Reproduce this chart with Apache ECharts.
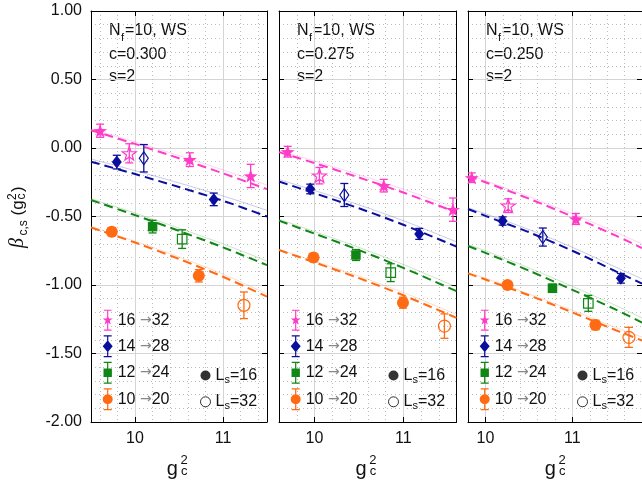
<!DOCTYPE html>
<html>
<head>
<meta charset="utf-8">
<script src="https://cdn.jsdelivr.net/npm/echarts@6/dist/echarts.min.js"></script>
<style>
html, body { margin: 0; padding: 0; background: #fff; }
#chart { width: 642px; height: 487px; }
</style>
</head>
<body>
<div id="chart"></div>
<script>
// points: [g_c^2, beta, error, open(1 = L_s=32)]
const p16_300 = [[9.604, 0.126, 0.048, 0], [9.935, -0.039, 0.07, 1], [10.623, -0.085, 0.05, 0], [11.314, -0.204, 0.085, 0]]
const p14_300 = [[9.793, -0.103, 0.05, 0], [10.10, -0.075, 0.10, 1], [10.895, -0.375, 0.046, 0]]
const p12_300 = [[10.20, -0.574, 0.046, 0], [10.536, -0.665, 0.068, 1]]
const p10_300 = [[9.736, -0.611, 0.03, 0], [10.725, -0.933, 0.045, 0], [11.238, -1.148, 0.097, 1]]

const p16_275 = [[9.698, -0.027, 0.039, 0], [10.056, -0.202, 0.06, 1], [10.78, -0.275, 0.046, 0], [11.56, -0.45, 0.085, 0]]
const p14_275 = [[9.952, -0.299, 0.035, 0], [10.336, -0.343, 0.084, 1], [11.18, -0.627, 0.04, 0]]
const p12_275 = [[10.467, -0.781, 0.04, 0], [10.859, -0.91, 0.065, 1]]
const p10_275 = [[9.989, -0.80, 0.03, 0], [10.997, -1.129, 0.04, 0], [11.464, -1.30, 0.089, 1]]

const p16_250 = [[9.843, -0.217, 0.035, 0], [10.262, -0.421, 0.05, 1], [11.04, -0.518, 0.04, 0]]
const p14_250 = [[10.198, -0.533, 0.03, 0], [10.66, -0.65, 0.066, 1], [11.557, -0.951, 0.035, 0]]
const p12_250 = [[10.771, -1.024, 0.03, 0], [11.183, -1.134, 0.058, 1]]
const p10_250 = [[10.254, -1.0, 0.025, 0], [11.265, -1.292, 0.035, 0], [11.65, -1.382, 0.073, 1]]

// fit curves (dashed) and the faint solid ones
const fitX_300 = [9.5, 10, 10.5, 11, 11.5]
const fit16_300 = [0.13, 0.03, -0.075, -0.185, -0.30]
const fit14_300 = [-0.10, -0.19, -0.285, -0.385, -0.50]
const fit12_300 = [-0.38, -0.49, -0.605, -0.725, -0.855]
const fit10_300 = [-0.58, -0.69, -0.81, -0.94, -1.085]
const alt16_300 = [0.14, 0.045, -0.055, -0.16, -0.27]
const alt14_300 = [-0.08, -0.165, -0.255, -0.35, -0.455]
const alt12_300 = [-0.37, -0.475, -0.585, -0.70, -0.825]
const alt10_300 = [-0.575, -0.68, -0.795, -0.92, -1.065]

const fitX_275 = [9.6, 10, 10.5, 11, 11.6]
const fit16_275 = [-0.03, -0.11, -0.215, -0.325, -0.47]
const fit14_275 = [-0.245, -0.33, -0.44, -0.56, -0.72]
const fit12_275 = [-0.53, -0.625, -0.745, -0.875, -1.045]
const fit10_275 = [-0.745, -0.835, -0.95, -1.075, -1.24]
const alt16_275 = [-0.02, -0.095, -0.195, -0.30, -0.44]
const alt14_275 = [-0.23, -0.31, -0.415, -0.53, -0.685]
const alt12_275 = [-0.52, -0.61, -0.725, -0.85, -1.015]
const alt10_275 = [-0.74, -0.825, -0.935, -1.055, -1.215]

const fitX_250 = [9.8, 10, 10.5, 11, 11.5, 11.8]
const fit16_250 = [-0.205, -0.25, -0.37, -0.5, -0.64, -0.73]
const fit14_250 = [-0.445, -0.495, -0.615, -0.75, -0.9, -0.99]
const fit12_250 = [-0.715, -0.765, -0.895, -1.035, -1.18, -1.275]
const fit10_250 = [-0.915, -0.96, -1.075, -1.2, -1.33, -1.405]
const alt16_250 = [-0.195, -0.24, -0.355, -0.48, -0.615, -0.70]
const alt14_250 = [-0.435, -0.48, -0.595, -0.725, -0.87, -0.955]
const alt12_250 = [-0.705, -0.75, -0.875, -1.01, -1.15, -1.24]
const alt10_250 = [-0.91, -0.95, -1.065, -1.185, -1.31, -1.38]

const groups = ['16→32', '14→28', '12→24', '10→20']
const yTicks = [-2, 1, 0.5]
const xMajor = [10, 11]

const FONT = '"Liberation Sans", Arial, sans-serif'
const colors = ['#ff3cc8', '#0a0e9c', '#108614', '#ff6a12']
const STAR = 'path://M5,0 L6.176,3.382 L9.755,3.455 L6.902,5.618 L7.939,9.045 L5,7 L2.061,9.045 L3.098,5.618 L0.245,3.455 L3.824,3.382 Z'
const symbols = [STAR, 'diamond', 'rect', 'circle']
const symSizes = [[14, 13.3], [10, 13], 9.5, 12]
const BAR = 'M4.4,0 L5.6,0 L5.6,22 L4.4,22 Z M1,0 L9,0 L9,1.2 L1,1.2 Z M1,20.8 L9,20.8 L9,22 L1,22 Z'
const legendIcons = [
  'path://M5,5.5 L6.293,9.22 L10.23,9.3 L7.09,11.68 L8.23,15.45 L5,13.2 L1.77,15.45 L2.91,11.68 L-0.23,9.3 L3.707,9.22 Z ' + BAR,
  'path://M5,5 L10,11 L5,17 L0,11 Z ' + BAR,
  'path://M0.8,6.8 L9.2,6.8 L9.2,15.2 L0.8,15.2 Z ' + BAR,
  'path://M0,11 A5,5 0 1,1 10,11 A5,5 0 1,1 0,11 Z ' + BAR
]

const panels = [
  { c: '0.300', left: 91, width: 176, min: 9.5, max: 11.5, minor: [9.6, 9.8, 10.2, 10.4, 10.6, 10.8, 11.2, 11.4],
    pts: [p16_300, p14_300, p12_300, p10_300], fx: fitX_300,
    fits: [fit16_300, fit14_300, fit12_300, fit10_300], alts: [alt16_300, alt14_300, alt12_300, alt10_300] },
  { c: '0.275', left: 279, width: 177.5, min: 9.6, max: 11.6, minor: [9.8, 10.2, 10.4, 10.6, 10.8, 11.2, 11.4],
    pts: [p16_275, p14_275, p12_275, p10_275], fx: fitX_275,
    fits: [fit16_275, fit14_275, fit12_275, fit10_275], alts: [alt16_275, alt14_275, alt12_275, alt10_275] },
  { c: '0.250', left: 468, width: 178, min: 9.8, max: 11.8, minor: [10.2, 10.4, 10.6, 10.8, 11.2, 11.4, 11.6],
    pts: [p16_250, p14_250, p12_250, p10_250], fx: fitX_250,
    fits: [fit16_250, fit14_250, fit12_250, fit10_250], alts: [alt16_250, alt14_250, alt12_250, alt10_250] }
]

const TOP = 11
const HEIGHT = 411

function errorBar (color) {
  return function (params, api) {
    const x = api.value(0)
    const y = api.value(1)
    const e = api.value(2)
    const hi = api.coord([x, y + e])
    const lo = api.coord([x, y - e])
    const w = 4
    const st = { stroke: color, lineWidth: 1.3 }
    return {
      type: 'group',
      children: [
        { type: 'line', shape: { x1: hi[0], y1: hi[1], x2: lo[0], y2: lo[1] }, style: st },
        { type: 'line', shape: { x1: hi[0] - w, y1: hi[1], x2: hi[0] + w, y2: hi[1] }, style: st },
        { type: 'line', shape: { x1: lo[0] - w, y1: lo[1], x2: lo[0] + w, y2: lo[1] }, style: st }
      ]
    }
  }
}

const grid = []
const xAxis = []
const yAxis = []
const series = []
const legend = []
const graphic = []
const black = { color: '#000', width: 1 }

panels.forEach((P, p) => {
  grid.push({ left: P.left, top: TOP, width: P.width, height: HEIGHT })
  // main bottom axis
  xAxis.push({
    gridIndex: p, type: 'value', min: P.min, max: P.max, position: 'bottom',
    axisLine: { onZero: false, lineStyle: black },
    axisTick: { inside: true, length: 5, customValues: xMajor, lineStyle: black },
    axisLabel: { customValues: xMajor, fontSize: 16, color: '#111', margin: 9, fontFamily: FONT },
    splitLine: { show: true, lineStyle: { color: '#d4d4d4', width: 1 } }
  })
  // minor dotted grid
  xAxis.push({
    gridIndex: p, type: 'value', min: P.min, max: P.max, position: 'bottom',
    axisLine: { show: false },
    axisTick: { show: false, customValues: P.minor },
    axisLabel: { show: false },
    splitLine: { show: true, lineStyle: { color: '#bdbdbd', width: 1, type: [1, 3] } }
  })
  // top mirror
  xAxis.push({
    gridIndex: p, type: 'value', min: P.min, max: P.max, position: 'top',
    axisLine: { onZero: false, lineStyle: black },
    axisTick: { inside: true, length: 5, customValues: xMajor, lineStyle: black },
    axisLabel: { show: false },
    splitLine: { show: false }
  })
  yAxis.push({
    gridIndex: p, type: 'value', min: yTicks[0], max: yTicks[1], interval: yTicks[2], position: 'left',
    axisLine: { show: true, onZero: false, lineStyle: black },
    axisTick: { inside: true, length: 5, lineStyle: black },
    axisLabel: { show: p === 0, formatter: v => v.toFixed(2), fontSize: 16, color: '#111', margin: 9, fontFamily: FONT },
    splitLine: { show: true, lineStyle: { color: '#d4d4d4', width: 1 } },
    minorTick: { show: false, splitNumber: 5 },
    minorSplitLine: { show: true, lineStyle: { color: '#bdbdbd', width: 1, type: [1, 3] } }
  })
  yAxis.push({
    gridIndex: p, type: 'value', min: yTicks[0], max: yTicks[1], interval: yTicks[2], position: 'right',
    axisLine: { show: true, onZero: false, lineStyle: black },
    axisTick: { inside: true, length: 5, lineStyle: black },
    axisLabel: { show: false },
    splitLine: { show: false }
  })
  const xi = p * 3
  const yi = p * 2

  groups.forEach((g, k) => {
    const col = colors[k]
    const pts = P.pts[k]
    series.push({
      name: g, type: 'scatter', xAxisIndex: xi, yAxisIndex: yi, z: 5,
      symbol: symbols[k], symbolSize: symSizes[k],
      itemStyle: { color: col, opacity: 1 },
      data: pts.filter(d => !d[3]).map(d => [d[0], d[1]])
    })
    series.push({
      name: g, type: 'scatter', xAxisIndex: xi, yAxisIndex: yi, z: 5,
      symbol: symbols[k], symbolSize: k === 1 ? [9, 13] : symSizes[k],
      itemStyle: { color: 'rgba(255,255,255,0)', borderColor: col, borderWidth: 1.2, opacity: 1 },
      data: pts.filter(d => d[3]).map(d => [d[0], d[1]])
    })
    series.push({
      name: g, type: 'custom', xAxisIndex: xi, yAxisIndex: yi, z: 4, clip: true,
      renderItem: errorBar(col),
      encode: { x: 0, y: 1 },
      data: pts.map(d => [d[0], d[1], d[2]])
    })
    series.push({
      name: 'fit ' + g, type: 'line', xAxisIndex: xi, yAxisIndex: yi, z: 3,
      smooth: 0.3, showSymbol: false, symbol: 'none',
      lineStyle: { color: col, width: 2, type: [9, 5] },
      data: P.fx.map((x, i) => [x, P.fits[k][i]])
    })
    series.push({
      name: 'alt ' + g, type: 'line', xAxisIndex: xi, yAxisIndex: yi, z: 2,
      smooth: 0.3, showSymbol: false, symbol: 'none',
      lineStyle: { color: col, width: 1, opacity: 0.22 },
      data: P.fx.map((x, i) => [x, P.alts[k][i]])
    })
  })

  legend.push({
    left: P.left + 11.7, top: 309.7, orient: 'vertical', padding: 0,
    itemWidth: 10, itemHeight: 22, itemGap: 4.5, selectedMode: false,
    data: groups.map((g, k) => ({ name: g, icon: legendIcons[k], itemStyle: { color: colors[k], borderWidth: 0 } })),
    formatter: name => {
      const s = name.split('→')
      return '{n|' + s[0] + ' }{a|→}{n|' + s[1] + '}'
    },
    textStyle: {
      fontSize: 16, fontFamily: FONT, color: '#111',
      rich: {
        n: { fontSize: 16, fontFamily: FONT, color: '#111' },
        a: { fontSize: 14, fontFamily: '"DejaVu Sans", sans-serif', color: '#888' }
      }
    }
  })
  legend.push({
    left: P.left + 109, top: 367.5, orient: 'vertical', padding: 0,
    itemWidth: 10, itemHeight: 10, itemGap: 8.3, selectedMode: false,
    data: [
      { name: 'Ls=16', icon: 'circle', itemStyle: { color: '#000', borderWidth: 0 } },
      { name: 'Ls=32', icon: 'circle', itemStyle: { color: '#fff', borderColor: '#000', borderWidth: 1 } }
    ],
    formatter: name => '{l|L}{s|s}{l|=' + name.split('=')[1] + '}',
    textStyle: {
      fontSize: 16, fontFamily: FONT, color: '#111',
      rich: {
        l: { fontSize: 16, fontFamily: FONT, color: '#111', lineHeight: 20 },
        s: { fontSize: 11, fontFamily: FONT, color: '#111', lineHeight: 11, verticalAlign: 'bottom' }
      }
    }
  })

  // panel annotations
  const ax = P.left + 18
  const t = (text, x, y, size) => ({
    type: 'text', x: x, y: y, silent: true,
    style: { text: text, fontSize: size, fontFamily: FONT, fill: '#111', align: 'left', verticalAlign: 'middle' }
  })
  graphic.push(t('N', ax, 30.9, 16))
  graphic.push(t('f', ax + 12, 38, 11))
  graphic.push(t('=10, WS', ax + 16, 30.9, 16))
  graphic.push(t('c=' + P.c, ax, 54.2, 16))
  graphic.push(t('s=2', ax, 76.7, 16))
  // x axis title g_c^2
  const cx = p === 2 ? 557 : P.left + P.width / 2
  graphic.push(t('g', cx - 12.3, 469, 20))
  graphic.push(t('2', cx + 1.5, 460, 13))
  graphic.push(t('c', cx + 2, 471, 13))
})

// y axis title beta_{c,s}(g_c^2), rotated
const yt = (text, x, y, size, italic) => ({
  type: 'text', x: x, y: y, silent: true,
  style: {
    text: text, fontSize: size, fontFamily: italic ? '"Liberation Serif", serif' : FONT,
    fontStyle: italic ? 'italic' : 'normal', fill: '#111', align: 'left', verticalAlign: 'middle'
  }
})
graphic.push({
  type: 'group', x: 23, y: 215.5, rotation: Math.PI / 2, silent: true,
  children: [
    yt('β', -32.5, -5, 20, true),
    yt('c,s', -20, 0.5, 12),
    yt('(g', 0, -5, 17),
    yt('2', 15.5, -10.5, 12),
    yt('c', 16, -1, 12),
    yt(')', 23.5, -5, 17)
  ]
})

// empty series so the L_s legend items exist
series.push({ name: 'Ls=16', type: 'scatter', xAxisIndex: 0, yAxisIndex: 0, data: [] })
series.push({ name: 'Ls=32', type: 'scatter', xAxisIndex: 0, yAxisIndex: 0, data: [] })

const chart = echarts.init(document.getElementById('chart'), null, { renderer: 'canvas' })
chart.setOption({
  animation: false,
  backgroundColor: '#fff',
  grid: grid,
  xAxis: xAxis,
  yAxis: yAxis,
  legend: legend,
  graphic: graphic,
  series: series
})
</script>
</body>
</html>
